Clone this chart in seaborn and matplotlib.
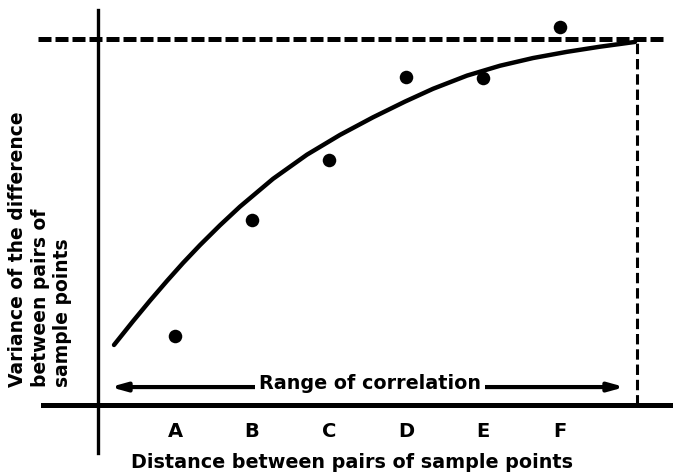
import matplotlib
matplotlib.use("Agg")
import matplotlib.pyplot as plt
import seaborn as sns

# sample points (distance class A-F, variance)
lag_labels = ["A", "B", "C", "D", "E", "F"]
lag_dist = [1, 2, 3, 4, 5, 6]
lag_var = [0.189, 0.505, 0.669, 0.896, 0.893, 1.033]

# fitted curve
curve_x = [0.208, 0.455, 0.675, 0.896, 1.104, 1.325, 1.584, 1.844, 2.273, 2.714,
           3.143, 3.571, 3.987, 4.351, 4.792, 5.221, 5.649, 6.091, 6.519, 6.974]
curve_y = [0.164, 0.229, 0.285, 0.339, 0.388, 0.437, 0.491, 0.542, 0.618, 0.684,
           0.738, 0.786, 0.829, 0.864, 0.900, 0.927, 0.948, 0.965, 0.979, 0.992]

SILL = 1.0
RANGE = 7.0

sns.set_style("white")
plt.rcParams["font.family"] = ["DejaVu Sans"]
plt.rcParams["text.color"] = "black"

fig = plt.figure(figsize=(6.73, 4.72), dpi=100)
ax = fig.add_axes([0, 0, 1, 1])
ax.set_xlim(-1.2727, 7.4675)
ax.set_ylim(-0.1831, 1.1066)

# fitted curve and points
sns.lineplot(x=curve_x, y=curve_y, sort=False, estimator=None, color="black",
             linewidth=3.2, ax=ax, solid_capstyle="round", solid_joinstyle="round")
sns.scatterplot(x=lag_dist, y=lag_var, s=95, color="black", edgecolor="black",
                linewidth=0, zorder=4, ax=ax)

# sill and range
ax.plot([-0.78, 7.35], [SILL, SILL], color="black", lw=3.6, ls=(0, (2.6, 0.8)))
ax.vlines(RANGE, 0, SILL, color="black", lw=2.2, ls=(0, (3.4, 1.6)))

# axes as spines through the origin
for s in ["top", "right"]:
    ax.spines[s].set_visible(False)
ax.spines["left"].set_position(("data", 0))
ax.spines["bottom"].set_position(("data", 0))
ax.spines["left"].set_bounds(-0.131, 1.079)
ax.spines["bottom"].set_bounds(-0.71, 7.47)
ax.spines["left"].set_linewidth(2.4)
ax.spines["bottom"].set_linewidth(3.6)
ax.spines["left"].set_color("black")
ax.spines["bottom"].set_color("black")

ax.set_yticks([])
ax.set_xticks(lag_dist, lag_labels)
ax.tick_params(axis="x", direction="out", length=8, width=2, color="black",
               labelcolor="black", pad=4, labelsize=14)
for t in ax.get_xticklabels():
    t.set_fontweight("bold")

# range of correlation arrow
ax.annotate("", xy=(0.16, 0.049), xytext=(6.84, 0.049),
            arrowprops=dict(arrowstyle="<|-|>,head_length=0.9,head_width=0.25",
                            color="black", lw=3, shrinkA=0, shrinkB=0))
ax.text(3.53, 0.058, "Range of correlation", ha="center", va="center",
        fontsize=13.8, fontweight="bold",
        bbox=dict(facecolor="white", edgecolor="none", pad=3))

ax.text(3.3, -0.158, "Distance between pairs of sample points", ha="center",
        va="center", fontsize=13.8, fontweight="bold")

ylines = ["Variance of the difference", "between pairs of", "sample points"]
for i, line in enumerate(ylines):
    fig.text((18 + 22.5 * i) / 673, 1 - 387 / 472, line, rotation=90,
             ha="center", va="bottom", fontsize=13.5, fontweight="bold")

fig.savefig("out.png", dpi=100)
